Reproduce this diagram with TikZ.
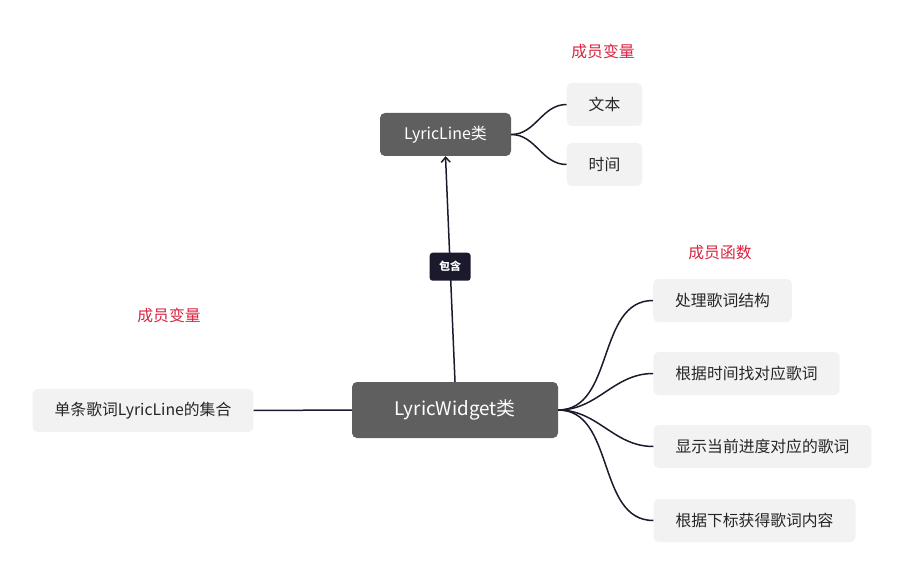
\documentclass[tikz,border=0pt]{standalone}
\usepackage{fontspec}
\setmainfont{Noto Sans CJK SC}
\usepackage{xcolor}
\definecolor{rootgray}{HTML}{5F5F5F}
\definecolor{leafgray}{HTML}{F2F2F3}
\definecolor{tagred}{HTML}{D9233F}
\definecolor{linedark}{HTML}{1B1A2C}
\usetikzlibrary{arrows.meta}

\begin{document}
\begin{tikzpicture}[x=1pt,y=-1pt,
  every node/.style={font=\fontsize{15.8}{19}\selectfont},
  rootbox/.style={fill=rootgray, rounded corners=5pt, text=white, minimum height=56pt, minimum width=206pt, font=\fontsize{18.8}{22}\selectfont},
  subbox/.style={fill=rootgray, rounded corners=5pt, text=white, minimum height=43pt, minimum width=131pt, font=\fontsize{16}{19}\selectfont},
  leafbox/.style={fill=leafgray, rounded corners=5pt, text=black!85, minimum height=43pt, inner xsep=22pt},
  tagtext/.style={text=tagred},
  linktag/.style={fill=linedark, rounded corners=3pt, text=white, minimum height=28pt, minimum width=41pt, inner sep=0pt, font=\fontsize{11}{13}\selectfont\bfseries},
  branch/.style={draw=linedark, line width=1.5pt}]
\useasboundingbox (0,0) rectangle (902,572);
% Nodes
\node[rootbox] (widget) at (455,410) {LyricWidget类};
\node[subbox] (line) at (445.5,134.5) {LyricLine类};
\node[leafbox, minimum width=75pt] (text) at (604.5,104.5) {文本};
\node[leafbox, minimum width=75pt] (time) at (604.5,164.5) {时间};
\node[tagtext] (varA) at (603,51) {成员变量};
\node[leafbox] (set) at (143,410.5) {单条歌词LyricLine的集合};
\node[tagtext] (varB) at (169,315) {成员变量};
\node[tagtext] (func) at (720,253) {成员函数};
\node[leafbox] (f1) at (722.5,300.5) {处理歌词结构};
\node[leafbox] (f2) at (746.5,373.5) {根据时间找对应歌词};
\node[leafbox] (f3) at (762.5,446.5) {显示当前进度对应的歌词};
\node[leafbox] (f4) at (754.5,520.5) {根据下标获得歌词内容};
% Links
\draw[branch, -{Straight Barb[length=5pt,width=9pt]}] (widget.north) -- (line.south) node[linktag, pos=0.51] (has) {包含};
\draw[branch] (set.east) -- (widget.west);
\foreach \leaf in {text,time}
  \draw[branch] (line.east) to[out=0,in=180] (\leaf.west);
\foreach \leaf in {f1,f2,f3,f4}
  \draw[branch] (widget.east) to[out=0,in=180] (\leaf.west);
\end{tikzpicture}
\end{document}
